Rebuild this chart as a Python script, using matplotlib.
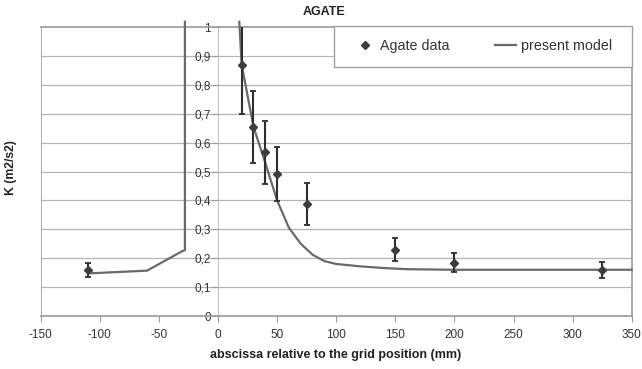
import numpy as np
import matplotlib
matplotlib.use("Agg")
import matplotlib.pyplot as plt
from matplotlib.lines import Line2D
from matplotlib.patches import Rectangle
from matplotlib.ticker import FuncFormatter

plt.rcParams["font.family"] = ["Liberation Sans", "DejaVu Sans"]
plt.rcParams["axes.unicode_minus"] = False

# measured turbulent kinetic energy with error bars
x_data = [-110, 20, 30, 40, 50, 75, 150, 200, 325]
k_data = [0.16, 0.87, 0.655, 0.567, 0.491, 0.388, 0.23, 0.185, 0.16]
k_err = [0.025, 0.17, 0.125, 0.109, 0.094, 0.072, 0.041, 0.034, 0.028]

# model curve (nan splits the part that leaves the top of the plot)
model_x = [-107, -60, -30, -28, -28, np.nan, 18, 20, 30, 40, 50, 60, 70, 80, 90, 100,
           120, 140, 160, 200, 350]
model_k = [0.148, 0.157, 0.225, 0.228, 1.018, np.nan, 1.018, 0.87, 0.655, 0.53, 0.40, 0.305,
           0.25, 0.212, 0.19, 0.18, 0.172, 0.166, 0.162, 0.16, 0.16]

fig = plt.figure(figsize=(6.42, 3.69), dpi=100)
ax = fig.add_axes([0.0634, 0.1436, 0.9206, 0.7832])

grid_col = "#9a9a9a"
for yv in np.arange(0.1, 1.0, 0.1):
    ax.axhline(yv, color="#b5b5b5", lw=0.9, zorder=0)

ax.plot(model_x, model_k, color="#6a6a6a", lw=1.6, clip_on=False, zorder=3)
ax.errorbar(x_data, k_data, yerr=k_err, fmt="D", ms=4.5, color="#3c3c3c",
            ecolor="#2e2e2e", elinewidth=1.5, capsize=2.5, capthick=1.3, zorder=4)

ax.set_xlim(-150, 350)
ax.set_ylim(0, 1)
ax.set_xticks(np.arange(-150, 351, 50))
ax.set_yticks(np.arange(0, 1.01, 0.1))
ax.yaxis.set_major_formatter(FuncFormatter(
    lambda v, p: ("%.1f" % v).rstrip("0").rstrip(".").replace(".", ",") if v else "0"))

# vertical axis crosses at x = 0, frame kept around the plot area
ax.spines["left"].set_position(("data", 0))
ax.axvline(-150, color=grid_col, lw=1.2, zorder=1)
for s in ["left", "right", "top", "bottom"]:
    ax.spines[s].set_color(grid_col)
    ax.spines[s].set_linewidth(1.2)
ax.spines["left"].set_color("#c8c8c8")
ax.spines["left"].set_linewidth(0.9)
ax.spines["left"].set_zorder(0.5)

ax.tick_params(axis="x", direction="out", length=4, color=grid_col, labelsize=8.5,
               labelcolor="#333333", pad=5)
ax.tick_params(axis="y", direction="out", length=4, color=grid_col, labelsize=8.5,
               labelcolor="#333333", pad=1)

fig.text(0.505, 0.967, "AGATE", fontsize=9, fontweight="bold", ha="center",
         va="center", color="#222222")
fig.text(0.523, 0.038, "abscissa relative to the grid position (mm)", fontsize=9,
         fontweight="bold", ha="center", va="center", color="#222222")
fig.text(0.017, 0.545, "K (m2/s2)", rotation=90, fontsize=8.8, fontweight="bold",
         ha="center", va="center", color="#222222")

# legend box sitting on the top edge of the plot area
ax.add_patch(Rectangle((0.496, 0.862), 0.505, 0.141, transform=ax.transAxes,
                       facecolor="white", edgecolor="#a0a0a0", lw=1.0,
                       clip_on=False, zorder=5))
handles = [Line2D([], [], ls="none", marker="D", ms=4.5, color="#3c3c3c"),
           Line2D([], [], color="#6a6a6a", lw=1.6)]
leg = ax.legend(handles, ["Agate data", "present model"], loc="center",
                ncol=2, bbox_to_anchor=(0.748, 0.933), fontsize=10.3,
                frameon=False, borderaxespad=0, handlelength=1.5,
                handletextpad=0.3, columnspacing=3.2, borderpad=0.75)
leg.set_zorder(6)
for t in leg.get_texts():
    t.set_color("#333333")

fig.savefig("out.png", dpi=100)
